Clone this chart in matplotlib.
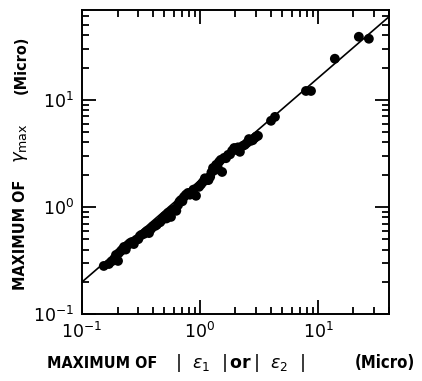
import matplotlib
matplotlib.use("Agg")
import matplotlib.pyplot as plt
from matplotlib import font_manager as fm

# Data (micro-strain)
eps_max = [0.153, 0.169, 0.187, 0.194, 0.202, 0.214, 0.227, 0.245, 0.265, 0.287,
           0.310, 0.335, 0.356, 0.385, 0.416, 0.441, 0.476, 0.505, 0.536, 0.568,
           0.614, 0.652, 0.690, 0.731, 0.791, 0.855, 0.925, 0.982, 1.06, 1.15,
           1.22, 1.29, 1.37, 1.45, 1.54, 1.60, 1.73, 1.87, 2.02, 2.18,
           2.31, 2.50, 2.70, 2.92, 3.10, 4.00, 4.32, 7.91, 8.73, 13.9,
           22.2, 27.0,
           0.178, 0.205, 0.220, 0.235, 0.255, 0.275, 0.300, 0.320, 0.345, 0.370,
           0.400, 0.430, 0.460, 0.490, 0.520, 0.580, 0.630, 0.670, 0.710, 0.760,
           0.820, 0.880, 1.02, 1.10, 1.18, 1.25, 1.33, 1.41, 1.50, 1.66,
           1.80, 1.95, 2.10, 2.40, 2.60, 2.80, 3.00]
gamma_max = [0.281, 0.293, 0.327, 0.356, 0.313, 0.388, 0.423, 0.442, 0.471, 0.492,
             0.536, 0.560, 0.597, 0.622, 0.664, 0.708, 0.757, 0.824, 0.879, 0.807,
             0.957, 1.04, 1.16, 1.24, 1.35, 1.38, 1.27, 1.54, 1.71, 1.79,
             1.91, 2.31, 2.47, 2.63, 2.12, 2.87, 3.06, 3.34, 3.41, 3.27,
             3.72, 3.96, 4.14, 4.42, 4.61, 6.37, 6.93, 12.1, 12.1, 24.2,
             38.8, 37.2,
             0.310, 0.370, 0.400, 0.400, 0.460, 0.450, 0.500, 0.550, 0.580, 0.570,
             0.660, 0.680, 0.720, 0.790, 0.780, 0.930, 0.920, 1.12, 1.13, 1.30,
             1.30, 1.45, 1.62, 1.85, 1.78, 2.10, 2.20, 2.35, 2.75, 2.85,
             3.10, 3.55, 3.60, 3.80, 4.30, 4.20, 4.55]

# Fitted line end points
fit_x = [0.1, 40.0]
fit_y = [0.199, 59.7]

xlim = (0.1, 40.0)
ylim = (0.1, 69.0)

# axis label pieces
xlabel_parts = ["MAXIMUM OF", r"$|\ \ \varepsilon_{1}\ \ |\,\mathbf{or}\,|\ \ \varepsilon_{2}\ \ |$", "(Micro)"]
ylabel_parts = ["MAXIMUM OF", r"$\gamma_{\rm max}$", "(Micro)"]

# pick a condensed bold face if one is installed
label_font = ["DejaVu Sans"]
label_stretch = "normal"
names = {f.name for f in fm.fontManager.ttflist}
cond = [f for f in fm.fontManager.ttflist
        if "DejaVu Sans" == f.name and "ondensed" in f.fname and "Bold" in f.fname]
if "Liberation Sans Narrow" in names:
    label_font = ["Liberation Sans Narrow", "DejaVu Sans"]
elif cond:
    label_stretch = "condensed"

fig = plt.figure(figsize=(4.22, 3.81), dpi=100)
W, H = 422, 381
ax = fig.add_axes([82/W, 1 - 314/H, 307/W, 304/H])

ax.plot(fit_x, fit_y, color="black", lw=1.2, zorder=2)
ax.scatter(eps_max, gamma_max, s=50, color="black", edgecolors="none", zorder=3)

ax.set_xscale("log")
ax.set_yscale("log")
ax.set_xlim(*xlim)
ax.set_ylim(*ylim)

for s in ax.spines.values():
    s.set_linewidth(1.4)

ax.tick_params(which="both", direction="in", top=True, right=True,
               labelsize=12.5, width=1.3)
ax.tick_params(which="major", length=10, pad=6)
ax.tick_params(which="minor", length=5)

kw = dict(family=label_font, fontweight="bold", fontstretch=label_stretch)
# x label
fig.text(47/W, 1 - 363/H, xlabel_parts[0], ha="left", va="center", fontsize=11.5, **kw)
fig.text(240/W, 1 - 363/H, xlabel_parts[1], ha="center", va="center", fontsize=12.5, **kw)
fig.text(385/W, 1 - 363/H, xlabel_parts[2], ha="center", va="center", fontsize=12, **kw)
# y label
fig.text(21/W, 1 - 235/H, ylabel_parts[0], ha="center", va="center", rotation=90,
         fontsize=11.5, **kw)
fig.text(21/W, 1 - 143/H, ylabel_parts[1], ha="center", va="center", rotation=90,
         fontsize=13, **kw)
fig.text(21/W, 1 - 65/H, ylabel_parts[2], ha="center", va="center", rotation=90,
         fontsize=11.5, **kw)

fig.savefig("out.png", dpi=100)
